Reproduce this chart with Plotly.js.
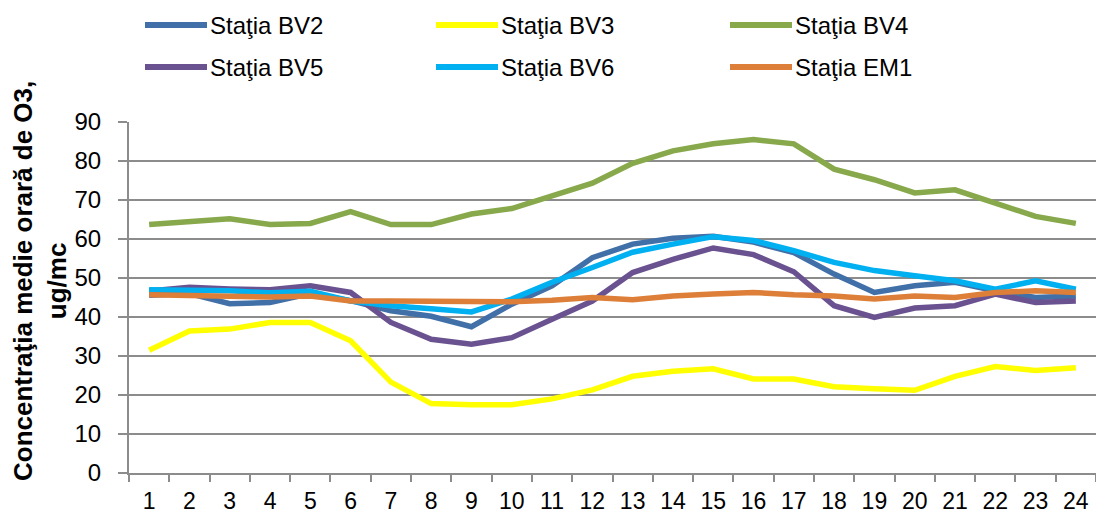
<!DOCTYPE html>
<html>
<head>
<meta charset="utf-8">
<script src="https://cdn.plot.ly/plotly-3.0.1.min.js"></script>
<style>html,body{margin:0;padding:0;background:#fff;}#chart{width:1096px;height:515px;}</style>
</head>
<body>
<div id="chart"></div>
<script>
// ---- data ----
const hours = ["1","2","3","4","5","6","7","8","9","10","11","12","13","14","15","16","17","18","19","20","21","22","23","24"];
const seriesNames = ["Staţia BV2","Staţia BV3","Staţia BV4","Staţia BV5","Staţia BV6","Staţia EM1"];
const bv2 = [45.6, 46.0, 43.4, 43.7, 46.0, 44.2, 41.6, 40.2, 37.5, 43.3, 48.0, 55.2, 58.7, 60.2, 60.7, 59.2, 56.5, 51.0, 46.3, 48.0, 48.9, 46.7, 45.0, 45.4];
const bv3 = [31.5, 36.4, 36.9, 38.6, 38.6, 33.9, 23.3, 17.8, 17.5, 17.5, 19.0, 21.3, 24.8, 26.1, 26.7, 24.1, 24.1, 22.1, 21.6, 21.2, 24.8, 27.3, 26.3, 27.0];
const bv4 = [63.7, 64.5, 65.2, 63.7, 64.0, 67.0, 63.7, 63.7, 66.4, 67.8, 71.0, 74.3, 79.4, 82.6, 84.4, 85.5, 84.4, 77.9, 75.2, 71.8, 72.6, 69.1, 65.8, 64.0];
const bv5 = [46.7, 47.6, 47.2, 47.0, 48.0, 46.3, 38.6, 34.3, 33.0, 34.7, 39.4, 44.1, 51.4, 54.8, 57.7, 56.0, 51.6, 42.9, 39.9, 42.3, 42.9, 45.9, 43.7, 44.1];
const bv6 = [47.0, 47.0, 46.7, 46.2, 46.6, 44.1, 42.9, 42.1, 41.3, 44.6, 48.9, 52.7, 56.6, 58.7, 60.6, 59.6, 57.0, 54.0, 51.9, 50.6, 49.3, 47.1, 49.3, 47.1];
const em1 = [45.7, 45.5, 45.0, 45.1, 45.4, 44.1, 44.1, 44.1, 44.1, 43.9, 44.3, 45.0, 44.4, 45.4, 45.9, 46.3, 45.7, 45.4, 44.6, 45.4, 45.0, 46.3, 46.7, 46.3];
const yTickVals = [0,10,20,30,40,50,60,70,80,90];
const yTitle = "Concentraţia medie orară de O3,<br>ug/mc";

// ---- styles ----
const colors = ["#4170a8","#ffff00","#87a84b","#6a5290","#00b0f0","#dd7f38"];
const allSeries = [bv2, bv3, bv4, bv5, bv6, em1];
const FONT = "Liberation Sans, Arial, sans-serif";
const W = 1096, H = 515, L = 129, R = 0, T = 122, B = 42;
const pw = W - L - R, ph = H - T - B;
const px = x => (x - L) / pw;
const py = y => (H - B - y) / ph;

const traces = allSeries.map((vals, i) => ({
  type: "scatter", mode: "lines",
  x: hours, y: vals, name: seriesNames[i],
  line: {color: colors[i], width: 5.5},
  showlegend: false, hoverinfo: "skip"
}));

// custom legend (3 columns x 2 rows)
const legCols = [145, 436, 730];
const legRows = [25, 67];
const shapes = [], annotations = [];
seriesNames.forEach((n, i) => {
  const c = i % 3, r = Math.floor(i / 3);
  shapes.push({type: "line", xref: "paper", yref: "paper",
    x0: px(legCols[c]), x1: px(legCols[c] + 62), y0: py(legRows[r]), y1: py(legRows[r]),
    line: {color: colors[i], width: 6}});
  annotations.push({xref: "paper", yref: "paper", x: px(legCols[c] + 63), y: py(legRows[r]),
    xanchor: "left", yanchor: "middle", showarrow: false, text: n,
    font: {family: FONT, size: 24, color: "#000"}});
});
annotations.push({xref: "paper", yref: "paper", x: px(40), y: py(281),
  xanchor: "center", yanchor: "middle", showarrow: false, textangle: -90,
  text: "<b>" + yTitle + "</b>", align: "center",
  font: {family: FONT, size: 26, color: "#000"}});

const layout = {
  width: W, height: H,
  margin: {l: L, r: R, t: T, b: B, pad: 0},
  paper_bgcolor: "#fff", plot_bgcolor: "#fff",
  font: {family: FONT, size: 24, color: "#000"},
  showlegend: false,
  xaxis: {
    type: "category", tickson: "boundaries",
    range: [-0.5, hours.length - 0.5],
    showgrid: false, zeroline: false,
    showline: true, linecolor: "#8c8c8c", linewidth: 2,
    ticks: "outside", ticklen: 7, tickwidth: 2, tickcolor: "#8c8c8c",
    ticklabelstandoff: 6,
    tickfont: {family: FONT, size: 23, color: "#000"},
    fixedrange: true
  },
  yaxis: {
    range: [0, 90], tickvals: yTickVals, ticktext: yTickVals.map(String),
    showgrid: true, gridcolor: "#8c8c8c", gridwidth: 2,
    zeroline: false,
    showline: true, linecolor: "#8c8c8c", linewidth: 2,
    ticks: "outside", ticklen: 9, tickwidth: 2, tickcolor: "#8c8c8c",
    ticklabelstandoff: 12,
    tickfont: {family: FONT, size: 24, color: "#000"},
    fixedrange: true
  },
  shapes: shapes,
  annotations: annotations
};

Plotly.newPlot("chart", traces, layout, {displayModeBar: false, staticPlot: true});
</script>
</body>
</html>
